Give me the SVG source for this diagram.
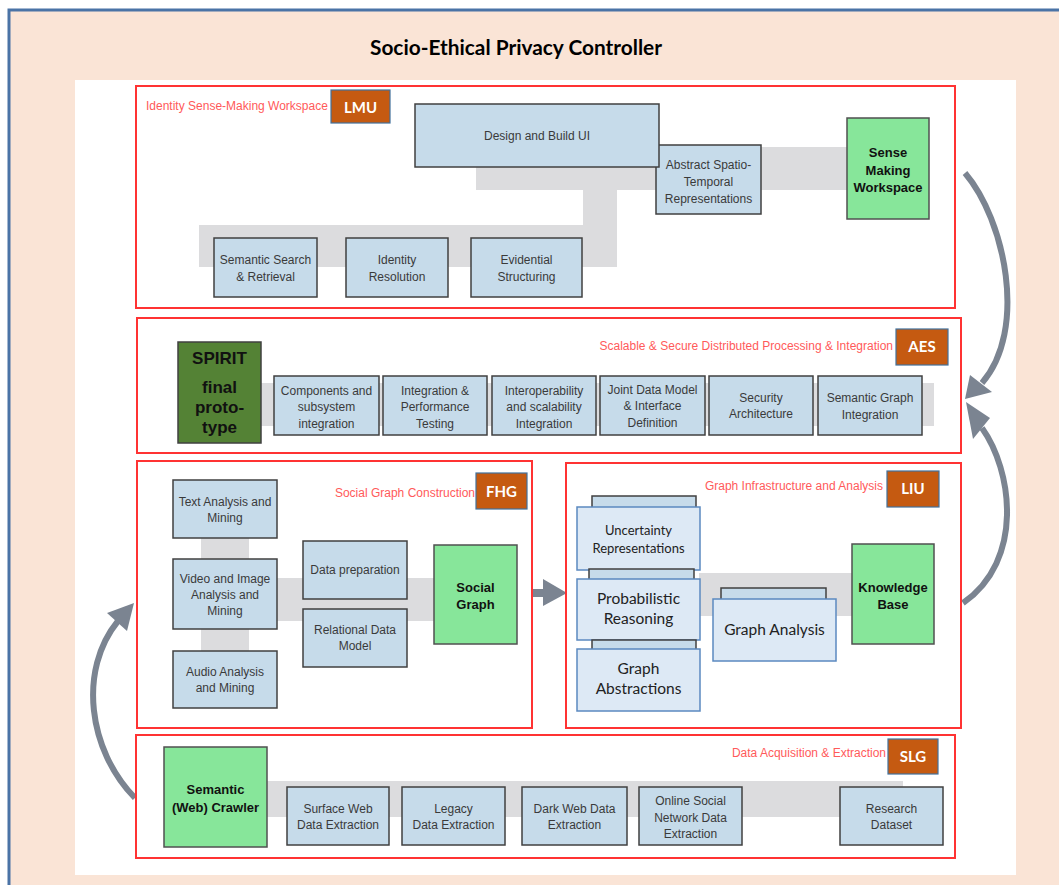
<svg xmlns="http://www.w3.org/2000/svg" width="1059" height="885" viewBox="0 0 1059 885">
<defs>
<style>
.bg{fill:#fae4d6;stroke:#4a73a6;stroke-width:3}
.sec{fill:none;stroke:#ff3333;stroke-width:2}
.lbl{font-family:"Liberation Sans",Arial,sans-serif;font-size:12px;fill:#ff5a5a}
.badge{fill:#c55a11;stroke:#41719c;stroke-width:1.2}
.bt{font-family:Lato,"Liberation Sans",sans-serif;font-weight:bold;font-size:15px;fill:#ffffff;text-anchor:middle}
.band{fill:#dcdcde}
.box{fill:#c6dbea;stroke:#404040;stroke-width:1.5}
.t{font-family:"Liberation Sans",Arial,sans-serif;font-size:12px;fill:#3a3a3a;text-anchor:middle}
.grn{fill:#87e69a;stroke:#505050;stroke-width:1.5}
.gt{font-family:"Liberation Sans",Arial,sans-serif;font-size:13px;font-weight:bold;fill:#111;text-anchor:middle}
.st{font-family:"Liberation Sans",Arial,sans-serif;font-size:17px;font-weight:bold;fill:#111;text-anchor:middle}
.lbox{fill:#dde9f5;stroke:#5b89c0;stroke-width:1.5}
.back{fill:#c6dbea;stroke:#404040;stroke-width:1.5}
.ct{font-family:Lato,"Liberation Sans",sans-serif;fill:#222;text-anchor:middle}
.arr{fill:none;stroke:#7b8491;stroke-width:6}
.ah{fill:#7b8491}
</style>
<clipPath id="c2"><rect x="270" y="370" width="660" height="61"/></clipPath>
</defs>

<g id="background">
<rect class="bg" x="9" y="10" width="1060" height="890"/>
<rect x="75" y="80" width="941" height="795" fill="#ffffff"/>
<text x="516" y="55" font-family="Lato,'Liberation Sans',sans-serif" font-weight="bold" font-size="20" fill="#000" text-anchor="middle" textLength="292" lengthAdjust="spacingAndGlyphs">Socio-Ethical Privacy Controller</text>
</g>

<g id="connectors">
<rect class="band" x="476" y="147" width="372" height="43"/>
<rect class="band" x="583" y="188" width="34" height="79"/>
<rect class="band" x="199" y="225" width="418" height="42"/>
<rect class="band" x="258" y="383" width="676" height="43"/>
<rect class="band" x="201" y="536" width="48" height="25"/>
<rect class="band" x="201" y="627" width="48" height="26"/>
<rect class="band" x="276" y="578" width="159" height="43"/>
<rect class="band" x="699" y="573" width="154" height="43"/>
<rect class="band" x="266" y="781" width="637" height="36"/>
<path class="arr" d="M965,173 C1005,220 1028,330 982,383"/>
<polygon class="ah" points="965,399 970,375 992,392"/>
<path class="arr" d="M963,603 C1025,560 1012,470 982,428"/>
<polygon class="ah" points="966,402 990,418 973,439"/>
<path class="arr" d="M135,798 C88,750 78,670 118,621"/>
<polygon class="ah" points="134,603 107,613 127,631"/>
<rect class="ah" x="531" y="589" width="14" height="8"/>
<polygon class="ah" points="543,579 567,593 543,606"/>
</g>

<g id="sec-lmu">
<rect class="sec" x="136" y="86" width="819" height="222"/>
<text class="lbl" x="146" y="110">Identity Sense-Making Workspace</text>
<rect class="badge" x="331" y="90" width="59" height="33"/>
<text class="bt" x="360.5" y="113">LMU</text>
</g>
<g id="n-abstract"><rect class="box" x="656" y="145" width="105" height="69"/>
<text class="t" x="708.5" y="169">Abstract Spatio-</text><text class="t" x="708.5" y="186">Temporal</text><text class="t" x="708.5" y="203">Representations</text></g>
<g id="n-design"><rect class="box" x="415" y="104" width="244" height="63"/>
<text class="t" x="537" y="140">Design and Build UI</text></g>
<g id="n-sensemaking"><rect class="grn" x="847" y="118" width="82" height="101"/>
<text class="gt" x="888" y="157">Sense</text><text class="gt" x="888" y="175">Making</text><text class="gt" x="888" y="192">Workspace</text></g>
<g id="n-semsearch"><rect class="box" x="214" y="238" width="103" height="59"/>
<text class="t" x="265.5" y="264">Semantic Search</text><text class="t" x="265.5" y="281">&amp; Retrieval</text></g>
<g id="n-identity"><rect class="box" x="346" y="238" width="102" height="59"/>
<text class="t" x="397" y="264">Identity</text><text class="t" x="397" y="281">Resolution</text></g>
<g id="n-evidential"><rect class="box" x="471" y="238" width="111" height="59"/>
<text class="t" x="526.5" y="264">Evidential</text><text class="t" x="526.5" y="281">Structuring</text></g>

<g id="sec-aes">
<rect class="sec" x="137" y="318" width="824" height="135"/>
<text class="lbl" x="893" y="350" text-anchor="end">Scalable &amp; Secure Distributed Processing &amp; Integration</text>
<rect class="badge" x="896" y="329" width="52" height="36"/>
<text class="bt" x="922" y="352">AES</text>
</g>
<g id="n-spirit"><rect x="178" y="342" width="83" height="101" fill="#548235" stroke="#404040" stroke-width="1.5"/>
<text class="st" x="219.5" y="364">SPIRIT</text><text class="st" x="219.5" y="393">final</text><text class="st" x="219.5" y="413">proto-</text><text class="st" x="219.5" y="433">type</text></g>
<g id="n-components"><rect class="box" x="274" y="376" width="105" height="59"/>
<g clip-path="url(#c2)"><text class="t" x="326.5" y="395">Components and</text><text class="t" x="326.5" y="411">subsystem</text><text class="t" x="326.5" y="428">integration</text></g></g>
<g id="n-perf"><rect class="box" x="383" y="376" width="104" height="59"/>
<g clip-path="url(#c2)"><text class="t" x="435" y="395">Integration &amp;</text><text class="t" x="435" y="411">Performance</text><text class="t" x="435" y="428">Testing</text></g></g>
<g id="n-interop"><rect class="box" x="492" y="376" width="104" height="59"/>
<g clip-path="url(#c2)"><text class="t" x="544" y="395">Interoperability</text><text class="t" x="544" y="411">and scalability</text><text class="t" x="544" y="428">Integration</text></g></g>
<g id="n-joint"><rect class="box" x="600" y="376" width="105" height="59"/>
<text class="t" x="652.5" y="394">Joint Data Model</text><text class="t" x="652.5" y="410">&amp; Interface</text><text class="t" x="652.5" y="427">Definition</text></g>
<g id="n-security"><rect class="box" x="709" y="376" width="104" height="59"/>
<text class="t" x="761" y="402">Security</text><text class="t" x="761" y="418">Architecture</text></g>
<g id="n-semgraph"><rect class="box" x="818" y="376" width="104" height="59"/>
<text class="t" x="870" y="402">Semantic Graph</text><text class="t" x="870" y="419">Integration</text></g>

<g id="sec-fhg">
<rect class="sec" x="137" y="461" width="395" height="267"/>
<text class="lbl" x="475" y="497" text-anchor="end">Social Graph Construction</text>
<rect class="badge" x="476" y="473" width="51" height="36"/>
<text class="bt" x="501.5" y="497">FHG</text>
</g>
<g id="n-text"><rect class="box" x="173" y="480" width="104" height="58"/>
<text class="t" x="225" y="506">Text Analysis and</text><text class="t" x="225" y="522">Mining</text></g>
<g id="n-video"><rect class="box" x="173" y="559" width="104" height="70"/>
<text class="t" x="225" y="583">Video and Image</text><text class="t" x="225" y="599">Analysis and</text><text class="t" x="225" y="615">Mining</text></g>
<g id="n-audio"><rect class="box" x="173" y="651" width="104" height="57"/>
<text class="t" x="225" y="676">Audio Analysis</text><text class="t" x="225" y="692">and Mining</text></g>
<g id="n-dataprep"><rect class="box" x="303" y="541" width="104" height="58"/>
<text class="t" x="355" y="574">Data preparation</text></g>
<g id="n-relational"><rect class="box" x="303" y="609" width="104" height="58"/>
<text class="t" x="355" y="634">Relational Data</text><text class="t" x="355" y="650">Model</text></g>
<g id="n-socialgraph"><rect class="grn" x="434" y="545" width="83" height="99"/>
<text class="gt" x="475.5" y="592">Social</text><text class="gt" x="475.5" y="609">Graph</text></g>

<g id="sec-liu">
<rect class="sec" x="566" y="463" width="395" height="265"/>
<text class="lbl" x="883" y="490" text-anchor="end">Graph Infrastructure and Analysis</text>
<rect class="badge" x="887" y="471" width="52" height="36"/>
<text class="bt" x="913" y="494">LIU</text>
</g>
<g id="n-uncertainty"><rect class="back" x="592" y="496" width="104" height="12"/><rect class="lbox" x="577" y="507" width="123" height="63"/>
<text class="ct" x="638.5" y="535" font-size="13">Uncertainty</text><text class="ct" x="638.5" y="553" font-size="13">Representations</text></g>
<g id="n-probabilistic"><rect class="back" x="589" y="569" width="105" height="11"/><rect class="lbox" x="577" y="579" width="123" height="61"/>
<text class="ct" x="638.5" y="604" font-size="15.5">Probabilistic</text><text class="ct" x="638.5" y="624" font-size="15.5">Reasoning</text></g>
<g id="n-abstractions"><rect class="back" x="592" y="640" width="104" height="10"/><rect class="lbox" x="577" y="649" width="123" height="62"/>
<text class="ct" x="638.5" y="674" font-size="15.5">Graph</text><text class="ct" x="638.5" y="694" font-size="15.5">Abstractions</text></g>
<g id="n-graphanalysis"><rect class="back" x="721" y="588" width="105" height="12"/><rect class="lbox" x="713" y="599" width="123" height="62"/>
<text class="ct" x="774.5" y="635" font-size="15.5">Graph Analysis</text></g>
<g id="n-knowledge"><rect class="grn" x="852" y="544" width="82" height="100"/>
<text class="gt" x="893" y="592">Knowledge</text><text class="gt" x="893" y="609">Base</text></g>

<g id="sec-slg">
<rect class="sec" x="136" y="735" width="819" height="123"/>
<text class="lbl" x="886" y="757" text-anchor="end">Data Acquisition &amp; Extraction</text>
<rect class="badge" x="888" y="739" width="50" height="35"/>
<text class="bt" x="913" y="762">SLG</text>
</g>
<g id="n-crawler"><rect class="grn" x="164" y="747" width="103" height="100"/>
<text class="gt" x="215.5" y="794">Semantic</text><text class="gt" x="215.5" y="812">(Web) Crawler</text></g>
<g id="n-surface"><rect class="box" x="287" y="787" width="102" height="58"/>
<text class="t" x="338" y="813">Surface Web</text><text class="t" x="338" y="829">Data Extraction</text></g>
<g id="n-legacy"><rect class="box" x="402" y="787" width="103" height="58"/>
<text class="t" x="453.5" y="813">Legacy</text><text class="t" x="453.5" y="829">Data Extraction</text></g>
<g id="n-darkweb"><rect class="box" x="522" y="787" width="105" height="58"/>
<text class="t" x="574.5" y="813">Dark Web Data</text><text class="t" x="574.5" y="829">Extraction</text></g>
<g id="n-osn"><rect class="box" x="639" y="787" width="103" height="58"/>
<text class="t" x="690.5" y="805">Online Social</text><text class="t" x="690.5" y="822">Network Data</text><text class="t" x="690.5" y="838">Extraction</text></g>
<g id="n-research"><rect class="box" x="840" y="787" width="103" height="58"/>
<text class="t" x="891.5" y="813">Research</text><text class="t" x="891.5" y="829">Dataset</text></g>
</svg>
